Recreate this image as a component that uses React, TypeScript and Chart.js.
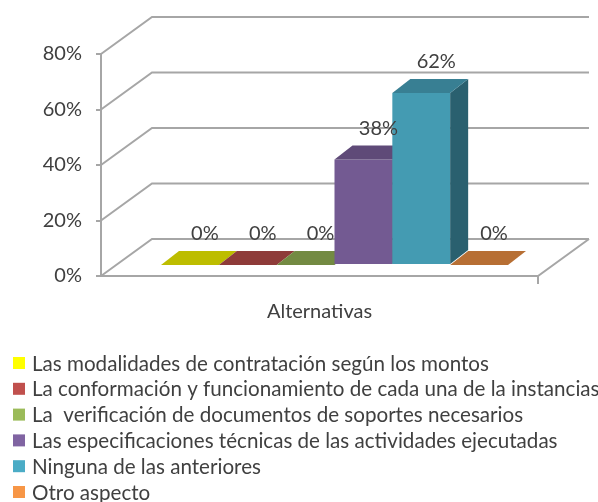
import React, { useEffect, useRef } from "react";
import { Chart, registerables } from "chart.js";

Chart.register(...registerables);

// ---- data ----
const categories = ["Alternativas"];
const seriesNames = [
  "Las modalidades de contratación según los montos",
  "La conformación y funcionamiento de cada una de la instancias",
  "La  verificación de documentos de soportes necesarios",
  "Las especificaciones técnicas de las actividades ejecutadas",
  "Ninguna de las anteriores",
  "Otro aspecto",
];
const seriesValues = [0, 0, 0, 38, 62, 0];
const yTicks = [0, 20, 40, 60, 80];
const yTickLabels = ["0%", "20%", "40%", "60%", "80%"];

// ---- styles ----
const baseColors = ["#FFFF00", "#C0504D", "#9BBB59", "#8064A2", "#4BACC6", "#F79646"];
const FONT = "Lato";
const TEXT = "#404040";
const GRID = "#A6A6A6";
const DX = 15;
const DY = -11;
const DEPTH_X = 18;
const DEPTH_Y = -14;
const WALL_X = 51;
const WALL_Y = -37;

function shade(hex: string, f: number) {
  const n = parseInt(hex.slice(1), 16);
  const r = Math.min(255, Math.round(((n >> 16) & 255) * f));
  const g = Math.min(255, Math.round(((n >> 8) & 255) * f));
  const b = Math.min(255, Math.round((n & 255) * f));
  return `rgb(${r},${g},${b})`;
}

const threeD = {
  id: "threeD",
  beforeDatasetsDraw(chart: any) {
    const { ctx, chartArea: a, scales } = chart;
    const y = scales.y;
    ctx.save();
    ctx.strokeStyle = GRID;
    ctx.lineWidth = 2;
    for (const v of yTicks) {
      const py = y.getPixelForValue(v);
      ctx.beginPath();
      ctx.moveTo(a.left, py);
      ctx.lineTo(a.left + WALL_X, py + WALL_Y);
      ctx.lineTo(a.right + WALL_X, py + WALL_Y);
      ctx.stroke();
    }
    ctx.beginPath();
    ctx.moveTo(a.left, a.bottom);
    ctx.lineTo(a.right, a.bottom);
    ctx.lineTo(a.right + WALL_X, a.bottom + WALL_Y);
    ctx.moveTo(a.right, a.bottom);
    ctx.lineTo(a.right, a.bottom + 8);
    ctx.stroke();
    ctx.restore();
  },
  // bars are drawn below, left to right, so each bar hides the side of the one before it
  beforeDatasetDraw() {
    return false;
  },
  afterDatasetsDraw(chart: any) {
    const ctx = chart.ctx;
    chart.data.datasets.forEach((ds: any, i: number) => {
      const el = chart.getDatasetMeta(i).data[0];
      if (!el) return;
      const { x, y, base, width } = el.getProps(["x", "y", "base", "width"], true);
      const l = x - width / 2;
      const r = x + width / 2;
      ctx.save();
      ctx.translate(DX, DY);
      el.draw(ctx, chart.chartArea);
      if (base - y > 0.5) {
        ctx.fillStyle = shade(baseColors[i], 0.56);
        ctx.beginPath();
        ctx.moveTo(r, y);
        ctx.lineTo(r + DEPTH_X, y + DEPTH_Y);
        ctx.lineTo(r + DEPTH_X, base + DEPTH_Y);
        ctx.lineTo(r, base);
        ctx.closePath();
        ctx.fill();
      }
      ctx.fillStyle = shade(baseColors[i], 0.74);
      ctx.beginPath();
      ctx.moveTo(l, y);
      ctx.lineTo(r, y);
      ctx.lineTo(r + DEPTH_X, y + DEPTH_Y);
      ctx.lineTo(l + DEPTH_X, y + DEPTH_Y);
      ctx.closePath();
      ctx.fill();
      ctx.restore();
    });

    ctx.save();
    ctx.font = `20px ${FONT}`;
    ctx.fillStyle = TEXT;
    ctx.textAlign = "center";
    ctx.textBaseline = "middle";
    chart.data.datasets.forEach((ds: any, i: number) => {
      const el = chart.getDatasetMeta(i).data[0];
      if (!el) return;
      const { x, y } = el.getProps(["x", "y"], true);
      ctx.fillText(`${ds.data[0]}%`, x + DX + 15, y + DY + DEPTH_Y - 17);
    });
    ctx.restore();
  },
  afterDraw(chart: any) {
    const ctx = chart.ctx;
    ctx.save();
    ctx.font = `20.6px ${FONT}`;
    ctx.textBaseline = "middle";
    ctx.textAlign = "left";
    seriesNames.forEach((name, i) => {
      const cy = 363 + i * 25.8;
      ctx.fillStyle = baseColors[i];
      ctx.fillRect(13, cy - 6, 12, 12);
      ctx.fillStyle = TEXT;
      ctx.fillText(name, 32, cy + 1);
    });
    ctx.restore();
  },
};

export default function App() {
  const ref = useRef<HTMLCanvasElement>(null);
  useEffect(() => {
    if (!ref.current) return;
    const chart = new Chart(ref.current, {
      type: "bar",
      data: {
        labels: categories,
        datasets: seriesNames.map((name, i) => ({
          label: name,
          data: [seriesValues[i]],
          backgroundColor: shade(baseColors[i], 0.9),
          borderWidth: 0,
          barPercentage: 1,
          categoryPercentage: 0.794,
        })),
      },
      options: {
        responsive: false,
        animation: false,
        layout: { padding: { left: 0, right: 60, top: 54, bottom: 178 } },
        plugins: { legend: { display: false }, tooltip: { enabled: false } },
        scales: {
          x: {
            grid: { display: false, drawTicks: false },
            border: { display: false },
            ticks: { font: { family: FONT, size: 20 }, color: TEXT, padding: 24 },
            afterFit: (s: any) => {
              s.height = 48;
            },
          },
          y: {
            min: 0,
            max: 80,
            afterBuildTicks: (s: any) => {
              s.ticks = yTicks.map((v) => ({ value: v }));
            },
            ticks: {
              font: { family: FONT, size: 20 },
              color: TEXT,
              padding: 14,
              callback: (v: any) => yTickLabels[yTicks.indexOf(Number(v))] ?? `${v}%`,
            },
            grid: { drawOnChartArea: false, drawTicks: true, tickLength: 5, color: GRID, lineWidth: 2 },
            border: { display: true, color: GRID, width: 2 },
            afterFit: (s: any) => {
              s.width = 101;
            },
          },
        },
      },
      plugins: [threeD],
    });
    return () => chart.destroy();
  }, []);
  return (
    <div style={{ position: "absolute", left: 0, top: 0, width: 598, height: 502, background: "#fff" }}>
      <canvas ref={ref} width={598} height={502} />
    </div>
  );
}
